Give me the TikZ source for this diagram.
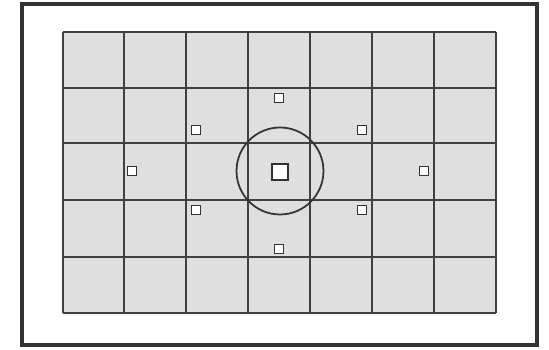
\documentclass[tikz,border=0pt]{standalone}
\usetikzlibrary{positioning}

\begin{document}
\begin{tikzpicture}[
      x=0.02cm, y=-0.02cm,
      frame/.style={draw=black!80, line width=1.8pt},
      gridline/.style={draw=black!75, line width=1.2pt},
      point/.style={rectangle, draw=black!80, fill=white, line width=1pt, minimum size=0.18cm, inner sep=0pt},
      bigpoint/.style={point, line width=1.3pt, minimum size=0.31cm},
      spot/.style={circle, draw=black!80, line width=1pt, minimum size=1.74cm, inner sep=0pt}
    ]

    \useasboundingbox (0,0) rectangle (549,350);

    % Frame
    \draw[frame] (22,4) rectangle (537,345);

    % Grid
    \fill[gray!25] (63,32) rectangle (496,313);
    \foreach \x in {63,124,186,248,310,372,434,496}
      \draw[gridline] (\x,32) -- (\x,313);
    \foreach \y in {32,88,143,200,257,313}
      \draw[gridline] (63,\y) -- (496,\y);

    % Spot metering circle
    \node[spot] (spot) at (280,171) {};

    % AF points
    \node[bigpoint] (center) at (280,172) {};
    \node[point] (top) at (279,98) {};
    \node[point] (bottom) at (279,249) {};
    \node[point] (left) at (132,171) {};
    \node[point] (right) at (424,171) {};
    \node[point] (upleft) at (196,130) {};
    \node[point] (upright) at (362,130) {};
    \node[point] (lowleft) at (196,210) {};
    \node[point] (lowright) at (362,210) {};

    \end{tikzpicture}
\end{document}
